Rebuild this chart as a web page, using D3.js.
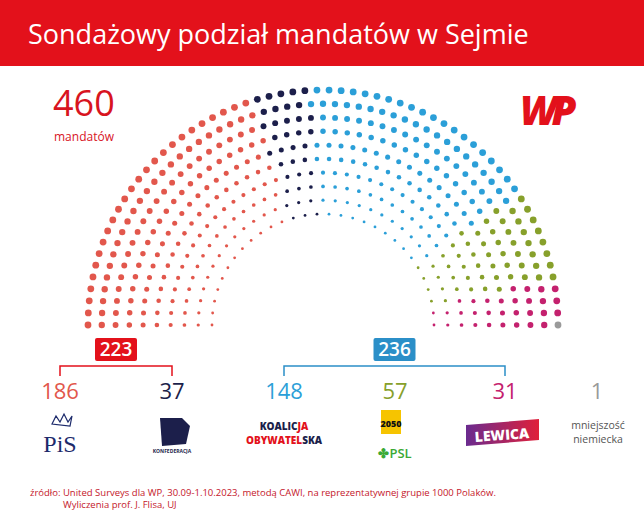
<!DOCTYPE html><html><head><meta charset="utf-8"><script src="https://cdn.jsdelivr.net/npm/d3@7"></script>
<style>body{margin:0;background:#fff}svg{display:block;font-family:'Open Sans',sans-serif}</style></head><body>
<script>
const parties=["PiS","Konfederacja","KO","Trzecia Droga","Lewica","Mniejszość niemiecka"];
const seats=[186,37,148,57,31,1];
const colors=["#e2574c","#1c1f4b","#2b9fd8","#87a02b","#c4216e","#9a9a9a"];
const labelX=[60,172,284,395,505,597];
const W=644,H=520,cx=323,cy=325,rOut=235,rIn=111,rows=10;
const svg=d3.select("body").append("svg").attr("width",W).attr("height",H);
svg.append("rect").attr("width",W).attr("height",66).attr("fill","#e3111b");
svg.append("text").attr("x",28).attr("y",44).attr("fill","#fff").attr("font-size",27).attr("font-weight",500).text("Sondażowy podział mandatów w Sejmie");
svg.append("text").attr("x",53).attr("y",116).attr("fill","#d8141f").attr("font-size",36).attr("font-weight",500).text("460");
svg.append("text").attr("x",54).attr("y",141).attr("fill","#d8141f").attr("font-size",12).text("mandatów");
svg.append("text").attr("x",520).attr("y",125).attr("fill","#e3111b").attr("font-size",40).attr("font-weight",900).attr("font-style","italic").attr("letter-spacing",-6).text("WP");
const total=d3.sum(seats);
const rS=d3.scaleLinear().domain([0,rows-1]).range([rIn,rOut]);
const radii=d3.range(rows).map(rS);
const sumR=d3.sum(radii);
let counts=radii.map(r=>Math.round(total*r/sumR));
counts[rows-1]+=total-d3.sum(counts);
let pts=[];
radii.forEach((r,i)=>{const n=counts[i];for(let k=0;k<n;k++){const a=Math.PI*(1-k/(n-1));pts.push({r,a,row:i});}});
pts.sort((p,q)=>q.a-p.a||p.r-q.r);
const cum=d3.cumsum(seats);
pts.forEach((p,i)=>{p.party=d3.bisectRight(cum,i);});
const dotR=d3.scaleLinear().domain([0,rows-1]).range([1.4,3.4]);
svg.append("g").selectAll("circle").data(pts).join("circle")
 .attr("cx",p=>cx+p.r*Math.cos(p.a)).attr("cy",p=>cy-p.r*Math.sin(p.a))
 .attr("r",p=>dotR(p.row)).attr("fill",p=>colors[p.party]);
function bracket(x1,x2,col,val){
 svg.append("path").attr("d",`M${x1},376V366H${x2}V376`).attr("fill","none").attr("stroke",col).attr("stroke-width",1.5);
 const m=(x1+x2)/2;
 svg.append("rect").attr("x",m-21).attr("y",338).attr("width",42).attr("height",23).attr("rx",2).attr("fill",col);
 svg.append("text").attr("x",m).attr("y",356).attr("text-anchor","middle").attr("fill","#fff").attr("font-size",19).attr("font-weight",600).text(val);
}
bracket(labelX[0],labelX[1],"#e3111b",seats[0]+seats[1]);
bracket(labelX[2],labelX[4],"#2b8fc8",seats[2]+seats[3]+seats[4]);
svg.append("g").selectAll("text").data(seats).join("text").attr("x",(d,i)=>labelX[i]).attr("y",399)
 .attr("text-anchor","middle").attr("font-size",22).attr("fill",(d,i)=>colors[i]).text(d=>d);
svg.append("text").attr("x",60).attr("y",452).attr("text-anchor","middle").attr("font-family","Liberation Serif").attr("font-size",24).attr("fill","#1c2a6b").text("PiS");
svg.append("path").attr("d","M52,424l4,-8l4,6l4,-8l4,8l4,-6l-2,10z").attr("fill","none").attr("stroke","#1c2a6b").attr("stroke-width",1.2);
svg.append("path").attr("d","M160,418l22,0l8,8l-4,18l-24,2z").attr("fill","#1c1f4b");
svg.append("text").attr("x",172).attr("y",453).attr("text-anchor","middle").attr("font-size",5).attr("font-weight",700).attr("fill","#1c1f4b").text("KONFEDERACJA");
const ko=svg.append("text").attr("x",284).attr("y",430).attr("text-anchor","middle").attr("font-size",10).attr("font-weight",800).attr("fill","#1c1f4b");
ko.append("tspan").text("KOALIC");ko.append("tspan").attr("fill","#e3111b").text("JA");
const ko2=svg.append("text").attr("x",284).attr("y",444).attr("text-anchor","middle").attr("font-size",10).attr("font-weight",800).attr("fill","#1c1f4b");
ko2.append("tspan").attr("fill","#e3111b").text("OBYWATEL");ko2.append("tspan").text("SKA");
svg.append("path").attr("d","M381,410h20v24h-20z").attr("fill","#f6c400");
svg.append("text").attr("x",391).attr("y",427).attr("text-anchor","middle").attr("font-size",9).attr("font-weight",800).attr("fill","#111").text("2050");
svg.append("text").attr("x",395).attr("y",458).attr("text-anchor","middle").attr("font-size",13).attr("font-weight",600).attr("fill","#3aa935").text("✤PSL");
const g=svg.append("defs").append("linearGradient").attr("id","lw");
g.append("stop").attr("offset",0).attr("stop-color","#6a2b8f");g.append("stop").attr("offset",1).attr("stop-color","#e0203a");
svg.append("path").attr("d","M466,425L539,419L539,440L466,446z").attr("fill","url(#lw)");
svg.append("text").attr("x",502).attr("y",440).attr("text-anchor","middle").attr("font-size",14).attr("font-weight",800).attr("fill","#fff").attr("transform","rotate(-4,502,436)").text("LEWICA");
svg.append("text").attr("x",598).attr("y",429).attr("text-anchor","middle").attr("font-size",10.5).attr("fill","#555").text("mniejszość");
svg.append("text").attr("x",598).attr("y",443).attr("text-anchor","middle").attr("font-size",10.5).attr("fill","#555").text("niemiecka");
svg.append("text").attr("x",30).attr("y",496).attr("font-size",9.5).attr("fill","#c4162a").text("źródło: United Surveys dla WP, 30.09-1.10.2023, metodą CAWI, na reprezentatywnej grupie 1000 Polaków.");
svg.append("text").attr("x",63).attr("y",508).attr("font-size",9.5).attr("fill","#c4162a").text("Wyliczenia prof. J. Flisa, UJ");
</script></body></html>
